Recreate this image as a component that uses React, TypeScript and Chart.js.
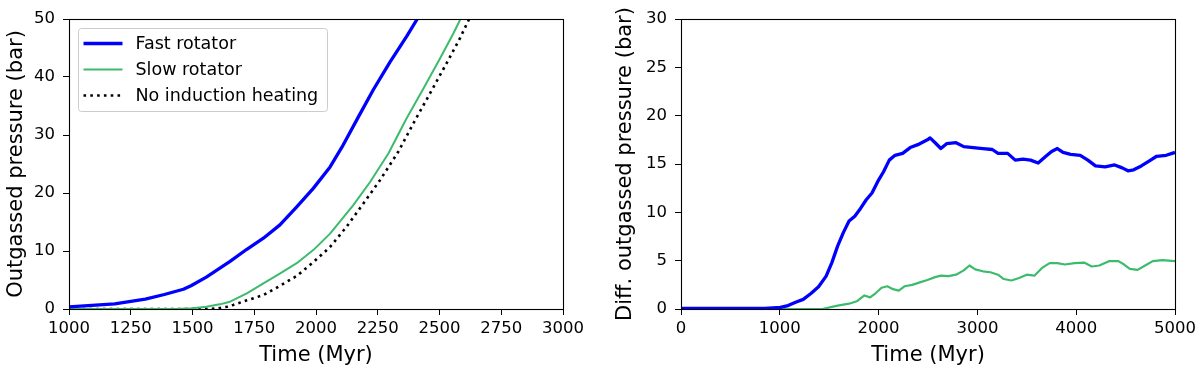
import React, { useEffect, useRef } from "react";
import { Chart, registerables } from "chart.js";

Chart.register(...registerables);

const FONT = "'DejaVu Sans', 'Liberation Sans', sans-serif";
const BLUE = "#0000ff";
const GREEN = "#3dbb6c";

// ---------- Left panel: outgassed pressure ----------
const leftFastTime = [1000, 1185, 1309, 1386, 1463, 1494, 1556, 1652, 1720, 1787, 1854, 1922, 1989, 2057, 2105, 2170, 2232, 2300, 2367, 2410];
const leftFastPressure = [0.35, 0.9, 1.7, 2.5, 3.4, 4.0, 5.5, 8.2, 10.3, 12.2, 14.5, 17.6, 20.8, 24.5, 27.9, 33.0, 37.8, 42.6, 47.0, 50];

const leftSlowTime = [1000, 1300, 1450, 1500, 1556, 1610, 1652, 1720, 1787, 1850, 1922, 1990, 2057, 2151, 2219, 2293, 2367, 2435, 2502, 2556, 2585];
const leftSlowPressure = [0, 0.02, 0.05, 0.12, 0.4, 0.8, 1.26, 2.7, 4.4, 6.0, 7.9, 10.2, 13.0, 17.9, 21.9, 26.8, 32.9, 38.0, 43.2, 47.5, 50];

const leftNoneTime = [1000, 1400, 1560, 1600, 1640, 1665, 1720, 1787, 1850, 1922, 1990, 2057, 2124, 2192, 2259, 2333, 2394, 2462, 2529, 2583, 2620];
const leftNonePressure = [0, 0, 0.02, 0.1, 0.4, 0.7, 1.5, 2.4, 3.9, 5.7, 8.1, 10.7, 14.2, 18.2, 22.2, 27.1, 32.0, 37.2, 42.4, 46.7, 50];

// ---------- Right panel: differential outgassed pressure ----------
const rightFastTime = [0, 851, 1005, 1083, 1160, 1237, 1315, 1392, 1469, 1527, 1585, 1643, 1701, 1759, 1817, 1875, 1933, 1992, 2050, 2108, 2166, 2243, 2320, 2397, 2455, 2494, 2521, 2572, 2630, 2688, 2784, 2862, 2958, 3055, 3151, 3209, 3306, 3383, 3461, 3538, 3615, 3693, 3751, 3809, 3867, 3944, 4041, 4118, 4195, 4292, 4389, 4466, 4524, 4582, 4659, 4737, 4814, 4911, 5000];
const rightFastDiff = [0.05, 0.05, 0.17, 0.35, 0.7, 1.0, 1.6, 2.3, 3.4, 4.8, 6.5, 7.9, 9.1, 9.6, 10.4, 11.3, 12.0, 13.2, 14.2, 15.4, 15.9, 16.1, 16.7, 17.0, 17.3, 17.5, 17.7, 17.2, 16.6, 17.1, 17.2, 16.8, 16.7, 16.6, 16.5, 16.1, 16.1, 15.4, 15.5, 15.4, 15.1, 15.8, 16.3, 16.6, 16.2, 16.0, 15.9, 15.4, 14.8, 14.7, 14.9, 14.6, 14.3, 14.4, 14.8, 15.3, 15.8, 15.9, 16.2];

const rightSlowTime = [0, 1431, 1585, 1701, 1779, 1856, 1914, 1972, 2030, 2088, 2146, 2204, 2262, 2340, 2417, 2494, 2572, 2630, 2707, 2784, 2862, 2920, 2978, 3055, 3132, 3209, 3267, 3345, 3422, 3499, 3577, 3654, 3731, 3809, 3886, 3983, 4080, 4157, 4234, 4331, 4427, 4485, 4543, 4621, 4698, 4775, 4872, 5000];
const rightSlowDiff = [0, 0, 0.35, 0.55, 0.8, 1.4, 1.2, 1.65, 2.2, 2.35, 2.05, 1.9, 2.35, 2.5, 2.75, 3.0, 3.3, 3.45, 3.4, 3.55, 4.0, 4.5, 4.1, 3.9, 3.8, 3.55, 3.1, 2.95, 3.2, 3.55, 3.45, 4.25, 4.75, 4.75, 4.6, 4.75, 4.8, 4.4, 4.5, 4.95, 4.95, 4.6, 4.15, 4.05, 4.5, 4.95, 5.05, 4.95];

const leftXTicks = { min: 1000, max: 3000, step: 250 };
const leftYTicks = { min: 0, max: 50, step: 10 };
const rightXTicks = { min: 0, max: 5000, step: 1000 };
const rightYTicks = { min: 0, max: 30, step: 5 };

const seriesLabels = ["Fast rotator", "Slow rotator", "No induction heating"];

const pts = (xs: number[], ys: number[]) => xs.map((x, i) => ({ x, y: ys[i] }));

const boxPlugin = {
  id: "frameBox",
  afterDatasetsDraw(chart: any) {
    const { left, right, top, bottom } = chart.chartArea;
    const ctx = chart.ctx;
    ctx.save();
    ctx.strokeStyle = "#000";
    ctx.lineWidth = 1.1;
    ctx.strokeRect(Math.round(left) + 0.5, Math.round(top) + 0.5, Math.round(right - left), Math.round(bottom - top));
    ctx.restore();
  },
};

const legendPlugin = {
  id: "mplLegend",
  afterDraw(chart: any) {
    if (!chart.options.plugins.mplLegend?.show) return;
    const ctx = chart.ctx;
    const { left, top } = chart.chartArea;
    const bx = Math.round(left) + 9.5;
    const by = Math.round(top) + 9.5;
    const bw = 249;
    const bh = 83;
    ctx.save();
    ctx.beginPath();
    if (ctx.roundRect) ctx.roundRect(bx, by, bw, bh, 3);
    else ctx.rect(bx, by, bw, bh);
    ctx.fillStyle = "rgba(255,255,255,0.8)";
    ctx.fill();
    ctx.strokeStyle = "#cccccc";
    ctx.lineWidth = 1;
    ctx.stroke();
    chart.data.datasets.forEach((ds: any, i: number) => {
      const y = by + 15 + i * 26;
      ctx.beginPath();
      ctx.setLineDash(ds.borderDash || []);
      ctx.strokeStyle = ds.borderColor;
      ctx.lineWidth = ds.borderWidth;
      ctx.moveTo(bx + 5, y);
      ctx.lineTo(bx + 44, y);
      ctx.stroke();
      ctx.setLineDash([]);
      ctx.fillStyle = "#000";
      ctx.font = `17.5px ${FONT}`;
      ctx.textBaseline = "middle";
      ctx.textAlign = "left";
      ctx.fillText(ds.label, bx + 57, y + 1);
    });
    ctx.restore();
  },
};

function makeScales(xt: any, yt: any, yTitle: string, yWidth: number, yTitlePad: number) {
  const tickFont = { family: FONT, size: 16.5 };
  const titleFont = { family: FONT, size: 21 };
  const fmt = (v: any) => String(v);
  return {
    x: {
      type: "linear",
      min: xt.min,
      max: xt.max,
      afterBuildTicks: (scale: any) => {
        const t = [];
        for (let v = xt.min; v <= xt.max; v += xt.step) t.push({ value: v });
        scale.ticks = t;
      },
      afterFit: (scale: any) => {
        scale.height = 63;
      },
      ticks: { color: "#000", font: tickFont, padding: 4, maxRotation: 0, autoSkip: false, callback: fmt },
      grid: { display: true, drawOnChartArea: false, drawTicks: true, tickLength: 6, color: "#000", lineWidth: 1 },
      border: { display: false },
      title: { display: true, text: "Time (Myr)", color: "#000", font: titleFont, padding: { top: 0, bottom: 4 } },
    },
    y: {
      type: "linear",
      min: yt.min,
      max: yt.max,
      afterBuildTicks: (scale: any) => {
        const t = [];
        for (let v = yt.min; v <= yt.max; v += yt.step) t.push({ value: v });
        scale.ticks = t;
      },
      afterFit: (scale: any) => {
        scale.width = yWidth;
      },
      ticks: { color: "#000", font: tickFont, padding: 8, autoSkip: false, callback: fmt },
      grid: { display: true, drawOnChartArea: false, drawTicks: true, tickLength: 6, color: "#000", lineWidth: 1 },
      border: { display: false },
      title: { display: true, text: yTitle, color: "#000", font: titleFont, padding: { top: yTitlePad, bottom: 0 } },
    },
  };
}

function Panel({ config, left }: { config: any; left: number }) {
  const ref = useRef<HTMLCanvasElement | null>(null);
  useEffect(() => {
    if (!ref.current) return;
    const chart = new Chart(ref.current, config);
    return () => chart.destroy();
  }, []);
  return (
    <canvas
      ref={ref}
      width={600}
      height={372}
      style={{ position: "absolute", left, top: 0, width: 600, height: 372 }}
    />
  );
}

const lineDefaults = {
  pointRadius: 0,
  pointHoverRadius: 0,
  tension: 0,
  fill: false,
  borderJoinStyle: "round",
};

const leftConfig: any = {
  type: "line",
  data: {
    datasets: [
      { ...lineDefaults, label: seriesLabels[0], data: pts(leftFastTime, leftFastPressure), borderColor: BLUE, borderWidth: 3.3 },
      { ...lineDefaults, label: seriesLabels[1], data: pts(leftSlowTime, leftSlowPressure), borderColor: GREEN, borderWidth: 2 },
      { ...lineDefaults, label: seriesLabels[2], data: pts(leftNoneTime, leftNonePressure), borderColor: "#000", borderWidth: 2.6, borderDash: [2.6, 4.2], borderCapStyle: "butt" },
    ],
  },
  options: {
    responsive: false,
    maintainAspectRatio: false,
    animation: false,
    devicePixelRatio: 1,
    layout: { padding: { left: 0, right: 37, top: 19, bottom: 0 } },
    plugins: { legend: { display: false }, tooltip: { enabled: false }, mplLegend: { show: true } },
    scales: makeScales(leftXTicks, leftYTicks, "Outgassed pressure (bar)", 69, 4),
  },
  plugins: [boxPlugin, legendPlugin],
};

const rightConfig: any = {
  type: "line",
  data: {
    datasets: [
      { ...lineDefaults, label: seriesLabels[0], data: pts(rightFastTime, rightFastDiff), borderColor: BLUE, borderWidth: 3.3 },
      { ...lineDefaults, label: seriesLabels[1], data: pts(rightSlowTime, rightSlowDiff), borderColor: GREEN, borderWidth: 2.2 },
    ],
  },
  options: {
    responsive: false,
    maintainAspectRatio: false,
    animation: false,
    devicePixelRatio: 1,
    layout: { padding: { left: 0, right: 24, top: 19, bottom: 0 } },
    plugins: { legend: { display: false }, tooltip: { enabled: false }, mplLegend: { show: false } },
    scales: makeScales(rightXTicks, rightYTicks, "Diff. outgassed pressure (bar)", 81, 13),
  },
  plugins: [boxPlugin, legendPlugin],
};

export default function App() {
  return (
    <div style={{ position: "absolute", left: 0, top: 0, width: 1200, height: 372, background: "#fff", overflow: "hidden" }}>
      <Panel config={leftConfig} left={0} />
      <Panel config={rightConfig} left={600} />
    </div>
  );
}
